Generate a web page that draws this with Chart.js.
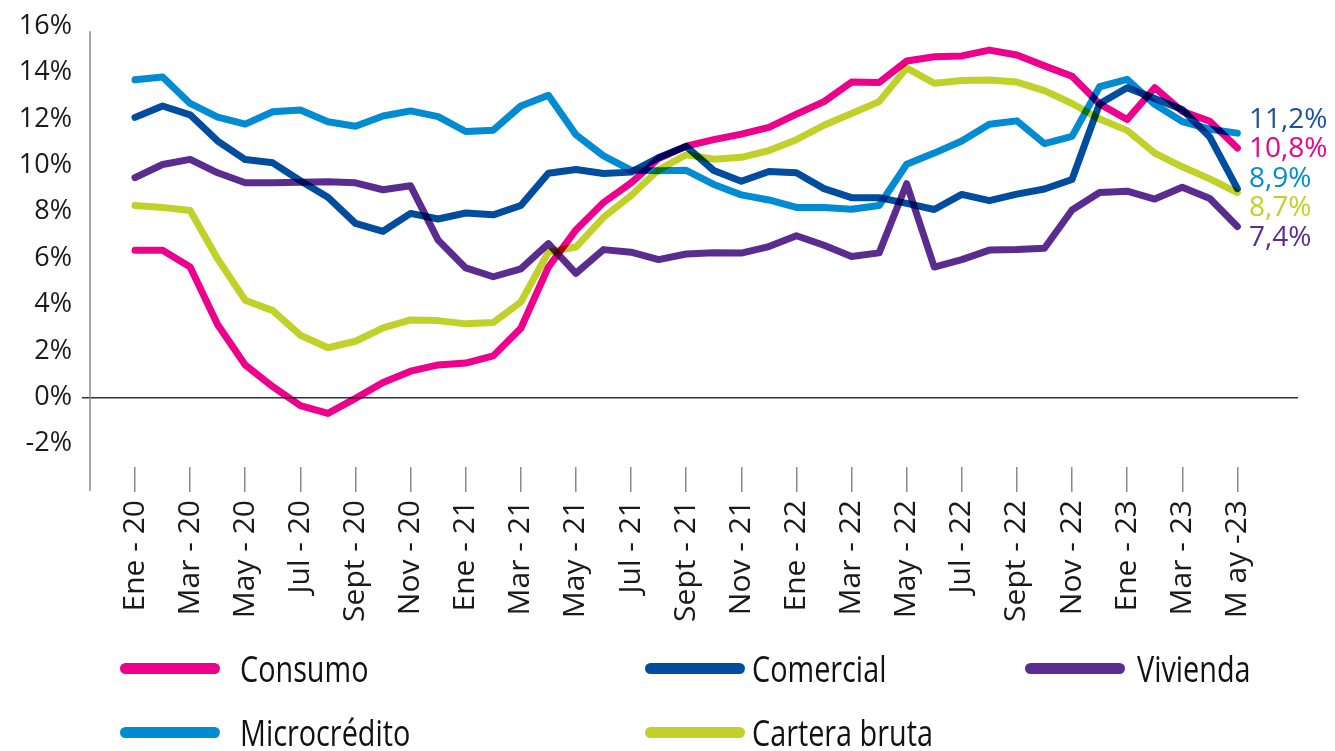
<!DOCTYPE html>
<html>
<head>
<meta charset="utf-8">
<script src="https://cdn.jsdelivr.net/npm/chart.js@4"></script>
<style>
  html, body { margin: 0; padding: 0; background: #fff; }
  #wrap { position: relative; width: 1335px; height: 751px; }
  #chart { position: absolute; left: 0; top: 0; }
  .leg { position: absolute; display: flex; align-items: center; height: 40px; }
  .leg .sym { width: 100px; height: 11px; border-radius: 6px; }
  .leg .txt { font-family: 'Open Sans', sans-serif; font-size: 36px; color: #111;
              transform: scaleX(0.8); transform-origin: left center; white-space: nowrap; }
</style>
</head>
<body>
<div id="wrap">
  <canvas id="chart" width="1335" height="751"></canvas>
</div>
<script>
const TICK_LABELS = ['Ene - 20', 'Mar - 20', 'May - 20', 'Jul - 20', 'Sept - 20', 'Nov - 20',
    'Ene - 21', 'Mar - 21', 'May - 21', 'Jul - 21', 'Sept - 21', 'Nov - 21',
    'Ene - 22', 'Mar - 22', 'May - 22', 'Jul - 22', 'Sept - 22', 'Nov - 22',
    'Ene - 23', 'Mar - 23', 'M ay -23'];

const SERIES_NAMES = ['Consumo', 'Comercial', 'Vivienda', 'Microcrédito', 'Cartera bruta'];
const SERIES_COLORS = ['#ec008c', '#004c9f', '#5b2c8f', '#008bd2', '#c2d12a'];

// monthly values, Ene-20 .. May-23 (41 months)
const CONSUMO = [6.34, 6.34, 5.62, 3.13, 1.40, 0.46, -0.35, -0.69, -0.04, 0.64,
    1.13, 1.40, 1.48, 1.79, 2.98, 5.62, 7.22, 8.40, 9.25, 10.30,
    10.83, 11.11, 11.35, 11.64, 12.21, 12.75, 13.59, 13.57, 14.50, 14.68,
    14.72, 14.97, 14.76, 14.29, 13.84, 12.65, 11.98, 13.35, 12.33, 11.90,
    10.75];
const COMERCIAL = [12.07, 12.56, 12.18, 11.05, 10.25, 10.11, 9.34, 8.63, 7.50, 7.16,
    7.93, 7.69, 7.95, 7.87, 8.27, 9.66, 9.82, 9.65, 9.71, 10.34,
    10.82, 9.78, 9.32, 9.74, 9.68, 9.00, 8.61, 8.61, 8.36, 8.10,
    8.75, 8.48, 8.76, 8.98, 9.39, 12.66, 13.35, 12.88, 12.41, 11.22,
    9.00];
const VIVIENDA = [9.47, 10.04, 10.26, 9.68, 9.25, 9.25, 9.27, 9.30, 9.25, 8.95,
    9.12, 6.78, 5.58, 5.20, 5.54, 6.63, 5.35, 6.37, 6.26, 5.94,
    6.18, 6.24, 6.22, 6.50, 6.97, 6.56, 6.07, 6.23, 9.21, 5.62,
    5.94, 6.35, 6.37, 6.43, 8.08, 8.83, 8.89, 8.55, 9.06, 8.57,
    7.37];
const MICROCREDITO = [13.69, 13.81, 12.67, 12.08, 11.78, 12.31, 12.39, 11.88, 11.69, 12.13,
    12.35, 12.10, 11.46, 11.52, 12.56, 13.02, 11.32, 10.41, 9.80, 9.77,
    9.79, 9.18, 8.73, 8.51, 8.19, 8.19, 8.11, 8.27, 10.05, 10.53,
    11.05, 11.77, 11.92, 10.94, 11.25, 13.39, 13.71, 12.63, 11.89, 11.56,
    11.39];
const CARTERA = [8.27, 8.19, 8.06, 5.97, 4.19, 3.74, 2.68, 2.14, 2.42, 3.00,
    3.34, 3.31, 3.17, 3.23, 4.11, 6.26, 6.48, 7.76, 8.70, 9.81,
    10.46, 10.27, 10.35, 10.64, 11.11, 11.73, 12.24, 12.75, 14.20, 13.54,
    13.66, 13.68, 13.59, 13.22, 12.67, 12.00, 11.51, 10.53, 9.94, 9.42,
    8.83];

const Y_TICKS = [-2, 0, 2, 4, 6, 8, 10, 12, 14, 16];

const END_LABELS = ['11,2%', '10,8%', '8,9%', '8,7%', '7,4%'];
const END_COLORS = ['#1d4f9c', '#ec008c', '#008bd2', '#c2d12a', '#5b2c8f'];

const FONT = "'Open Sans', sans-serif";
const TEXT_COLOR = '#1a1a1a';
const AXIS_COLOR = '#8a8a8a';

function toPoints(values) {
    return values.map((v, i) => ({ x: i, y: v }));
}

function getDatasets() {
    const all = [CONSUMO, COMERCIAL, VIVIENDA, MICROCREDITO, CARTERA];
    return all.map((values, i) => ({
        label: SERIES_NAMES[i],
        data: toPoints(values),
        borderColor: SERIES_COLORS[i],
        borderWidth: 7,
        pointRadius: 0,
        tension: 0,
        borderCapStyle: 'round',
        borderJoinStyle: 'round'
    }));
}

// lines overlap like ink: darker where they cross
function getMultiplyPlugin() {
    return {
        id: 'multiplyLines',
        beforeDraw(chart) {
            const { ctx } = chart;
            ctx.save();
            ctx.fillStyle = '#fff';
            ctx.fillRect(0, 0, chart.width, chart.height);
            ctx.restore();
        },
        beforeDatasetsDraw(chart) {
            chart.ctx.save();
            chart.ctx.globalCompositeOperation = 'multiply';
        },
        afterDatasetsDraw(chart) {
            chart.ctx.restore();
        }
    };
}

function getAxisLinePlugin() {
    return {
        id: 'yAxisLine',
        afterDraw(chart) {
            const { ctx, chartArea } = chart;
            ctx.save();
            ctx.strokeStyle = AXIS_COLOR;
            ctx.lineWidth = 1.5;
            ctx.beginPath();
            ctx.moveTo(chartArea.left, chartArea.top + 5);
            ctx.lineTo(chartArea.left, chartArea.bottom + 24);
            ctx.stroke();
            ctx.restore();
        }
    };
}

function getEndLabelsPlugin() {
    return {
        id: 'endLabels',
        afterDraw(chart) {
            const { ctx } = chart;
            ctx.save();
            ctx.font = '28px ' + FONT;
            ctx.textAlign = 'left';
            ctx.textBaseline = 'middle';
            END_LABELS.forEach((label, i) => {
                ctx.fillStyle = END_COLORS[i];
                ctx.fillText(label, 1249, 120 + i * 29.5);
            });
            ctx.restore();
        }
    };
}

const chart = new Chart(document.getElementById('chart'), {
    type: 'line',
    data: { datasets: getDatasets() },
    options: {
        responsive: false,
        animation: false,
        layout: { padding: { top: 22, right: 37, bottom: 114, left: 0 } },
        plugins: {
            legend: { display: false },
            tooltip: { enabled: false }
        },
        scales: {
            x: {
                type: 'linear',
                min: -1.633,
                max: 42.2,
                border: { display: false },
                grid: {
                    drawOnChartArea: false,
                    drawTicks: true,
                    tickLength: 25,
                    color: AXIS_COLOR,
                    lineWidth: 1.5
                },
                afterBuildTicks: axis => {
                    axis.ticks = TICK_LABELS.map((l, i) => ({ value: i * 2 }));
                },
                afterFit: axis => { axis.height = 170; },
                ticks: {
                    autoSkip: false,
                    maxRotation: 90,
                    minRotation: 90,
                    padding: 8,
                    color: TEXT_COLOR,
                    font: { family: FONT, size: 30 },
                    callback: value => TICK_LABELS[value / 2]
                }
            },
            y: {
                min: -3,
                max: 16,
                border: { display: false },
                grid: {
                    drawTicks: true,
                    tickLength: 8,
                    lineWidth: 1.5,
                    color: ctx => ctx.tick && ctx.tick.value === 0 ? '#333' : 'transparent'
                },
                afterBuildTicks: axis => {
                    axis.ticks = Y_TICKS.map(v => ({ value: v }));
                },
                afterFit: axis => { axis.width = 90; },
                ticks: {
                    padding: 10,
                    color: TEXT_COLOR,
                    font: { family: FONT, size: 27 },
                    callback: value => value + '%'
                }
            }
        }
    },
    plugins: [getMultiplyPlugin(), getAxisLinePlugin(), getEndLabelsPlugin()]
});

// legend laid out in a 3-column grid under the chart
const LEGEND_SLOTS = [[120, 648], [645, 648], [1025, 648], [120, 712], [645, 712]];
const LEGEND_TEXT_GAP = [20, 7, 12, 20, 7];
const wrap = document.getElementById('wrap');
chart.data.datasets.forEach((ds, i) => {
    const item = document.createElement('div');
    item.className = 'leg';
    item.style.left = LEGEND_SLOTS[i][0] + 'px';
    item.style.top = LEGEND_SLOTS[i][1] + 'px';
    const sym = document.createElement('div');
    sym.className = 'sym';
    sym.style.background = ds.borderColor;
    sym.style.marginRight = LEGEND_TEXT_GAP[i] + 'px';
    const txt = document.createElement('span');
    txt.className = 'txt';
    txt.textContent = ds.label;
    item.appendChild(sym);
    item.appendChild(txt);
    wrap.appendChild(item);
});
</script>
</body>
</html>
